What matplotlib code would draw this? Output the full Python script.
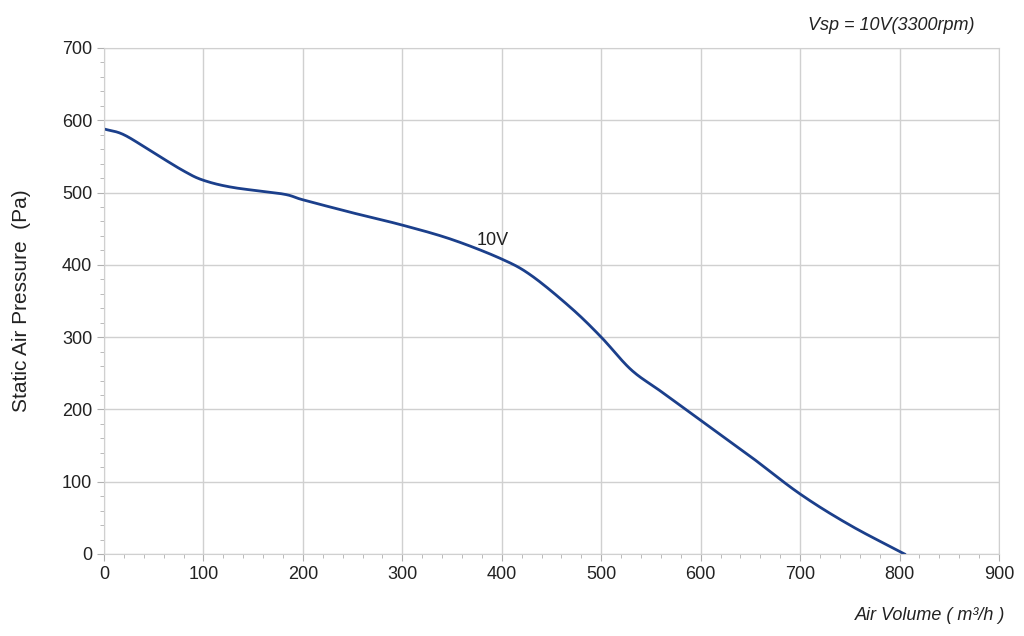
import matplotlib
matplotlib.use("Agg")
import matplotlib.pyplot as plt
import numpy as np
from matplotlib.ticker import MultipleLocator

plt.rcParams['font.family'] = ['Liberation Sans', 'DejaVu Sans']

air_volume = [0, 20, 50, 80, 100, 130, 180, 200, 250, 300, 350, 400, 430, 470, 500, 530, 560, 600, 650, 700, 750, 805]
pressure = [588, 580, 555, 530, 517, 507, 498, 490, 472, 455, 435, 408, 385, 340, 300, 255, 225, 185, 135, 83, 40, 0]
x_ticks = list(range(0, 901, 100))
y_ticks = list(range(0, 701, 100))

def catmull(x, y, n=20):
    x = np.asarray(x, float); y = np.asarray(y, float)
    px = np.concatenate([[2*x[0]-x[1]], x, [2*x[-1]-x[-2]]])
    py = np.concatenate([[2*y[0]-y[1]], y, [2*y[-1]-y[-2]]])
    ox, oy = [], []
    t = np.linspace(0, 1, n, endpoint=False)
    for i in range(1, len(px)-2):
        for P, out in ((px, ox), (py, oy)):
            p0, p1, p2, p3 = P[i-1], P[i], P[i+1], P[i+2]
            out.extend(0.5*((2*p1) + (-p0+p2)*t + (2*p0-5*p1+4*p2-p3)*t**2 + (-p0+3*p1-3*p2+p3)*t**3))
    ox.append(x[-1]); oy.append(y[-1])
    return ox, oy

fig = plt.figure(figsize=(10.24, 6.36), dpi=100)
ax = fig.add_axes([104/1024, 1-554/636, 895/1024, 506/636])
sx, sy = catmull(air_volume, pressure)
ax.plot(sx, sy, color="#1b3f8b", lw=2)
ax.set_xlim(0, 900); ax.set_ylim(0, 700)
ax.set_xticks(x_ticks); ax.set_yticks(y_ticks)
ax.xaxis.set_minor_locator(MultipleLocator(20))
ax.yaxis.set_minor_locator(MultipleLocator(20))
ax.grid(True, which="major", color="#d0d0d0", lw=1)
for s in ax.spines.values():
    s.set_color("#d0d0d0")
ax.tick_params(which="both", color="#b0b0b0", labelsize=13, labelcolor="#222222")
ax.tick_params(which="major", length=5)
ax.tick_params(which="minor", length=3)
ax.set_ylabel("Static Air Pressure  (Pa)", fontsize=15, color="#222222", labelpad=22)
ax.text(375, 428, "10V", fontsize=13, color="#222222")
fig.text(975/1024, 1-25/636, "Vsp = 10V(3300rpm)", fontsize=13, style="italic", ha="right", va="center", color="#222222")
fig.text(1005/1024, 1-615/636, "Air Volume ( m³/h )", fontsize=13, style="italic", ha="right", va="center", color="#222222")
fig.savefig("out.png", dpi=100)
